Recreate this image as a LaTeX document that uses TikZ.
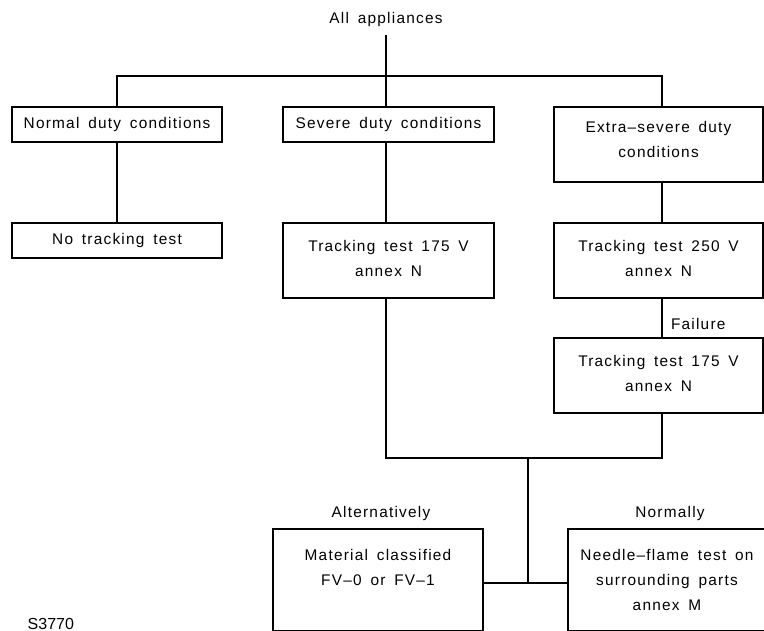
\documentclass[tikz,border=0pt]{standalone}
\usepackage{fontspec}
\setmainfont{Liberation Sans}[LetterSpace=8,WordSpace=1.6]
\newfontfamily\plainfont{Liberation Sans}
\newcommand{\fs}{\fontsize{15.4}{25}\selectfont}
\newcommand{\dep}[1]{\rule[-#1]{0pt}{#1}}
\begin{document}
\begin{tikzpicture}[x=1pt,y=-1pt,line width=1.4pt,
  box/.style={draw,rectangle,inner sep=0pt,outer sep=0pt,align=center,font=\fs},
  lbl/.style={inner sep=0pt,outer sep=0pt,font=\fs}]
\useasboundingbox (0,0) rectangle (764,631);
\fill[white] (0,0) rectangle (764,631);
\clip (0,0) rectangle (764,631);

% labels
\node[lbl,anchor=base] (all) at (386,23.5) {All appliances};
\node[lbl,anchor=base west] (fail) at (671,329.5) {Failure};
\node[lbl,anchor=base] (alt) at (381,517.5) {Alternatively};
\node[lbl,anchor=base] (norm) at (670,517.5) {Normally};
\node[inner sep=0pt,anchor=base west,font=\plainfont\fontsize{16}{20}\selectfont] (code) at (27,629) {S3770};

% boxes
\node[box,minimum width=210pt,minimum height=35pt] (normal) at (117,124.5) {Normal duty conditions};
\node[box,minimum width=211pt,minimum height=35pt] (severe) at (388.5,124.5) {Severe duty conditions};
\node[box,minimum width=209pt,minimum height=75pt] (extra) at (658.5,144.5) {Extra–severe duty\\conditions\dep{10pt}};
\node[box,minimum width=210pt,minimum height=35pt] (notrack) at (117,240.5) {No tracking test};
\node[box,minimum width=211pt,minimum height=75pt] (tA) at (388.5,260.5) {Tracking test 175 V\\annex N\dep{4pt}};
\node[box,minimum width=209pt,minimum height=75pt] (tB) at (658.5,260.5) {Tracking test 250 V\\annex N\dep{4pt}};
\node[box,minimum width=209pt,minimum height=75pt] (tC) at (658.5,375.5) {Tracking test 175 V\\annex N\dep{4pt}};
\node[box,minimum width=210pt,minimum height=101.5pt] (material) at (378,579.75) {Material classified\\FV–0 or FV–1\\\vphantom{X}};
\node[box,minimum width=198pt,minimum height=101.5pt] (needle) at (667,579.75) {Needle–flame test on\\surrounding parts\\annex M};

% connectors
\coordinate (top) at (386,35);
\coordinate (cC) at (662,76);
\coordinate (join) at (528,458);
\coordinate (low) at (528,583);
\draw (top) -- (top |- severe.north);
\draw (normal.north) |- (cC) -- (cC |- extra.north);
\draw (normal.south) -- (notrack.north);
\draw (top |- severe.south) -- (top |- tA.north);
\draw (cC |- extra.south) -- (cC |- tB.north);
\draw (cC |- tB.south) -- (cC |- tC.north);
\draw (top |- tA.south) |- (cC |- join) -- (cC |- tC.south);
\draw (join) -- (low);
\draw (material.east |- low) -- (needle.west |- low);
\end{tikzpicture}
\end{document}
